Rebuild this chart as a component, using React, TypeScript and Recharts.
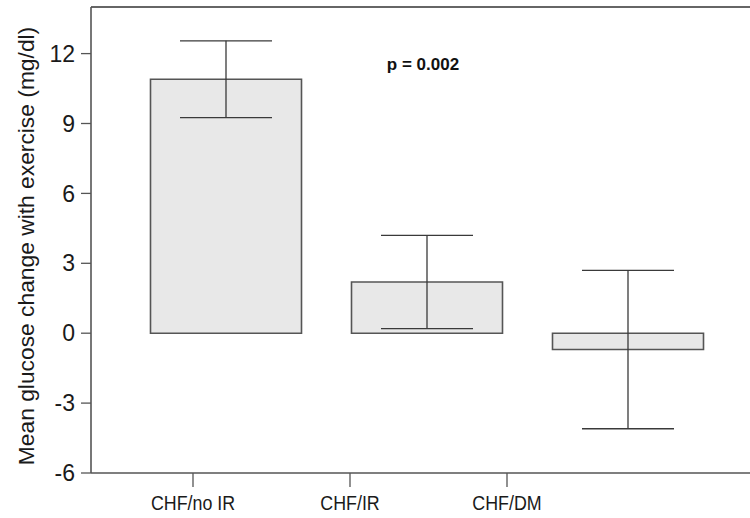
import React from 'react';
import { BarChart, Bar, XAxis, YAxis, ErrorBar, ReferenceLine, ReferenceDot } from 'recharts';

const groups = ['CHF/no IR', 'CHF/IR', 'CHF/DM'];
const means = [10.9, 2.2, -0.7];
const errors = [1.65, 2.0, 3.4];
const yTicks = [-6, -3, 0, 3, 6, 9, 12];
const yDomain: [number, number] = [-6, 14];
const pLabel = 'p = 0.002';
const pLabelGroup = 'CHF/IR';
const pLabelY = 11.55;
const yTitle = 'Mean glucose change with exercise (mg/dl)';

const data = groups.map((g, i) => ({ group: g, mean: means[i], err: errors[i] }));

const FONT = '"Liberation Sans", Arial, Helvetica, sans-serif';

const XTick = (props: any) => {
  const { x, y, payload } = props;
  return (
    <g transform={`translate(${x},${y})`}>
      <text
        x={0}
        y={0}
        dy="0.71em"
        textAnchor="middle"
        transform="scale(0.85,1)"
        fontSize={21}
        fontFamily={FONT}
        fill="#1a1a1a"
      >
        {payload.value}
      </text>
    </g>
  );
};

export default function App() {
  return (
    <div style={{ position: 'absolute', left: 0, top: 0, width: 750, height: 518, background: '#fff', overflow: 'hidden' }}>
      <BarChart
        width={750}
        height={518}
        data={data}
        margin={{ top: 7, right: 0, bottom: 0, left: 0 }}
        style={{ fontFamily: FONT }}
      >
        <XAxis
          xAxisId="labels"
          dataKey="group"
          height={45}
          padding={{ left: 23.5, right: 164.5 }}
          axisLine={{ stroke: '#555', strokeWidth: 1.6 }}
          tickLine={{ stroke: '#555', strokeWidth: 1.3 }}
          tickSize={14}
          tickMargin={8}
          tick={<XTick />}
          interval={0}
        />
        <XAxis
          xAxisId="bars"
          dataKey="group"
          hide
          height={0}
          padding={{ left: 34.5, right: 21.5 }}
        />
        <YAxis
          width={91}
          domain={yDomain}
          ticks={yTicks}
          allowDataOverflow
          axisLine={{ stroke: '#555', strokeWidth: 1.6 }}
          tickLine={{ stroke: '#555', strokeWidth: 1.3 }}
          tickSize={10}
          tickMargin={6}
          tick={{ fontSize: 23, fill: '#1a1a1a', fontFamily: FONT }}
          label={{
            value: yTitle,
            angle: -90,
            position: 'insideLeft',
            offset: 0,
            dx: 26,
            dy: 6,
            style: { textAnchor: 'middle', fontSize: 22.8, fill: '#1a1a1a', fontFamily: FONT },
          }}
        />
        <ReferenceLine xAxisId="bars" y={14} stroke="#666" strokeWidth={2} />
        <Bar
          xAxisId="bars"
          dataKey="mean"
          fill="#e8e8e8"
          stroke="#555"
          strokeWidth={1.6}
          barSize={151}
          isAnimationActive={false}
        >
          <ErrorBar dataKey="err" width={46} stroke="#3a3a3a" strokeWidth={1.3} direction="y" />
        </Bar>
        <ReferenceDot
          xAxisId="bars"
          x={pLabelGroup}
          y={pLabelY}
          r={0}
          fill="none"
          stroke="none"
          label={{ value: pLabel, position: 'center', fontSize: 17, fontWeight: 'bold', fill: '#111', fontFamily: FONT, dx: -4 }}
        />
      </BarChart>
    </div>
  );
}
